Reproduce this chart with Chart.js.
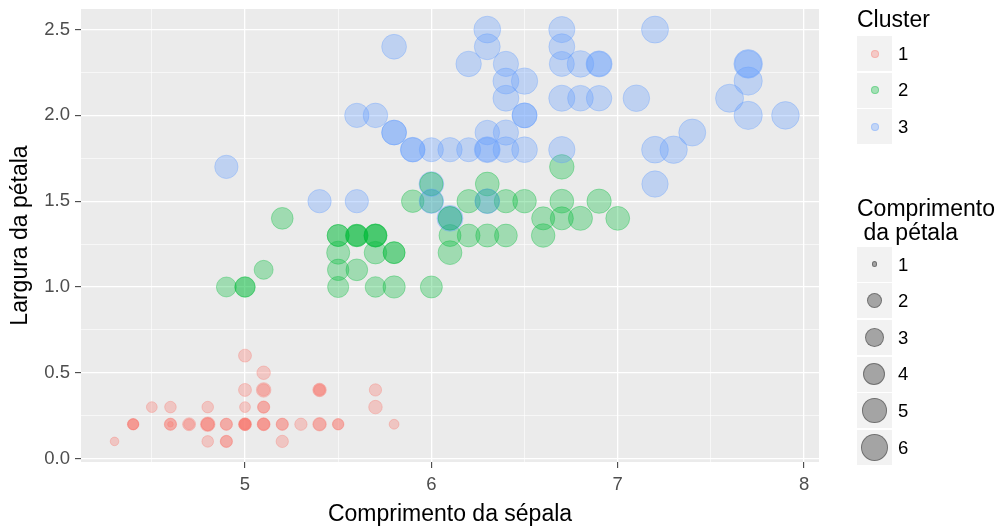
<!DOCTYPE html>
<html>
<head>
<meta charset="utf-8">
<script src="https://cdn.jsdelivr.net/npm/chart.js@4/dist/chart.umd.min.js"></script>
<style>
  body { margin:0; background:#fff; font-family:"Liberation Sans", Arial, sans-serif; }
  #wrap { position:relative; width:1001px; height:529px; }
  canvas { position:absolute; left:0; top:0; }
  .lg { position:absolute; color:#000; white-space:pre; }
  .key { position:absolute; width:35px; height:35px; background:#F2F2F2; }
  .dot { position:absolute; border-radius:50%; box-sizing:border-box; }
</style>
</head>
<body>
<div id="wrap">
  <canvas id="myChart" width="1001" height="529"></canvas>
</div>
<script>
// iris: sepal length (x), petal width (y), petal length (size), cluster (colour)
var sepalLength = [
  5.1,4.9,4.7,4.6,5.0,5.4,4.6,5.0,4.4,4.9, 5.4,4.8,4.8,4.3,5.8,5.7,5.4,5.1,5.7,5.1,
  5.4,5.1,4.6,5.1,4.8,5.0,5.0,5.2,5.2,4.7, 4.8,5.4,5.2,5.5,4.9,5.0,5.5,4.9,4.4,5.1,
  5.0,4.5,4.4,5.0,5.1,4.8,5.1,4.6,5.3,5.0,
  7.0,6.4,6.9,5.5,6.5,5.7,6.3,4.9,6.6,5.2, 5.0,5.9,6.0,6.1,5.6,6.7,5.6,5.8,6.2,5.6,
  5.9,6.1,6.3,6.1,6.4,6.6,6.8,6.7,6.0,5.7, 5.5,5.5,5.8,6.0,5.4,6.0,6.7,6.3,5.6,5.5,
  5.5,6.1,5.8,5.0,5.6,5.7,5.7,6.2,5.1,5.7,
  6.3,5.8,7.1,6.3,6.5,7.6,4.9,7.3,6.7,7.2, 6.5,6.4,6.8,5.7,5.8,6.4,6.5,7.7,7.7,6.0,
  6.9,5.6,7.7,6.3,6.7,7.2,6.2,6.1,6.4,7.2, 7.4,7.9,6.4,6.3,6.1,7.7,6.3,6.4,6.0,6.9,
  6.7,6.9,5.8,6.8,6.7,6.7,6.3,6.5,6.2,5.9
]
var petalLength = [
  1.4,1.4,1.3,1.5,1.4,1.7,1.4,1.5,1.4,1.5, 1.5,1.6,1.4,1.1,1.2,1.5,1.3,1.4,1.7,1.5,
  1.7,1.5,1.0,1.7,1.9,1.6,1.6,1.5,1.4,1.6, 1.6,1.5,1.5,1.4,1.5,1.2,1.3,1.4,1.3,1.5,
  1.3,1.3,1.3,1.6,1.9,1.4,1.6,1.4,1.5,1.4,
  4.7,4.5,4.9,4.0,4.6,4.5,4.7,3.3,4.6,3.9, 3.5,4.2,4.0,4.7,3.6,4.4,4.5,4.1,4.5,3.9,
  4.8,4.0,4.9,4.7,4.3,4.4,4.8,5.0,4.5,3.5, 3.8,3.7,3.9,5.1,4.5,4.5,4.7,4.4,4.1,4.0,
  4.4,4.6,4.0,3.3,4.2,4.2,4.2,4.3,3.0,4.1,
  6.0,5.1,5.9,5.6,5.8,6.6,4.5,6.3,5.8,6.1, 5.1,5.3,5.5,5.0,5.1,5.3,5.5,6.7,6.9,5.0,
  5.7,4.9,6.7,4.9,5.7,6.0,4.8,4.9,5.6,5.8, 6.1,6.4,5.6,5.1,5.6,6.1,5.6,5.5,4.8,5.4,
  5.6,5.1,5.1,5.9,5.7,5.2,5.0,5.2,5.4,5.1
]
var petalWidth = [
  0.2,0.2,0.2,0.2,0.2,0.4,0.3,0.2,0.2,0.1, 0.2,0.2,0.1,0.1,0.2,0.4,0.4,0.3,0.3,0.3,
  0.2,0.4,0.2,0.5,0.2,0.2,0.4,0.2,0.2,0.2, 0.2,0.4,0.1,0.2,0.2,0.2,0.2,0.1,0.2,0.2,
  0.3,0.3,0.2,0.6,0.4,0.3,0.2,0.2,0.2,0.2,
  1.4,1.5,1.5,1.3,1.5,1.3,1.6,1.0,1.3,1.4, 1.0,1.5,1.0,1.4,1.3,1.4,1.5,1.0,1.5,1.1,
  1.8,1.3,1.5,1.2,1.3,1.4,1.4,1.7,1.5,1.0, 1.1,1.0,1.2,1.6,1.5,1.6,1.5,1.3,1.3,1.3,
  1.2,1.4,1.2,1.0,1.3,1.2,1.3,1.3,1.1,1.3,
  2.5,1.9,2.1,1.8,2.2,2.1,1.7,1.8,1.8,2.5, 2.0,1.9,2.1,2.0,2.4,2.3,1.8,2.2,2.3,1.5,
  2.3,2.0,2.0,1.8,2.1,1.8,1.8,1.8,2.1,1.6, 1.9,2.0,2.2,1.5,1.4,2.3,2.4,1.8,1.8,2.1,
  2.4,2.3,1.9,2.3,2.5,2.3,1.9,2.0,2.3,1.8
]
var cluster = [
  1,1,1,1,1,1,1,1,1,1, 1,1,1,1,1,1,1,1,1,1, 1,1,1,1,1,1,1,1,1,1, 1,1,1,1,1,1,1,1,1,1,
  1,1,1,1,1,1,1,1,1,1,
  2,2,2,2,2,2,2,2,2,2, 2,2,2,2,2,2,3,2,2,2, 3,2,2,2,2,2,2,2,2,2, 2,2,2,3,3,2,2,2,2,2,
  2,2,2,2,2,2,2,2,2,2,
  3,3,3,3,3,3,3,3,3,3, 3,3,3,3,3,3,3,3,3,3, 3,3,3,3,3,3,3,3,3,3, 3,3,3,3,3,3,3,3,3,3,
  3,3,3,3,3,3,3,3,3,3
]

var clusterNames = ['1','2','3']
var clusterColors = ['248,118,109','0,186,56','97,156,255']
var sizeBreaks = [1,2,3,4,5,6]

var xMajor = [5,6,7,8]
var xMinor = [4.5,5.5,6.5,7.5]
var yMajor = [0,0.5,1,1.5,2,2.5]
var yMinor = [0.25,0.75,1.25,1.75,2.25]

var alpha = 0.32
var minL = Math.min.apply(null, petalLength)
var maxL = Math.max.apply(null, petalLength)

// ggplot style area scale: size 1..6, then to pixels
function radius(L){
  var s = 1 + 5*Math.sqrt((L-minL)/(maxL-minL))
  return 2.3*s + 0.5
}

function isMajor(list, v){
  return list.some(function(m){ return Math.abs(m-v) < 1e-9 })
}

var points = []
for(let i=0;i<sepalLength.length;i++){
  points.push({x: sepalLength[i], y: petalWidth[i]})
}

var panelBg = {
  id: 'panelBg',
  beforeDraw: function(chart){
    var a = chart.chartArea
    var ctx = chart.ctx
    ctx.save()
    ctx.fillStyle = '#EBEBEB'
    ctx.fillRect(a.left, a.top, a.right-a.left, a.bottom-a.top)
    ctx.restore()
  }
}

var tickFont = {family:'"Liberation Sans", Arial, sans-serif', size:18.5}
var titleFont = {family:'"Liberation Sans", Arial, sans-serif', size:23, lineHeight:1.2}

var ctx = document.getElementById('myChart').getContext('2d')
var myChart = new Chart(ctx, {
  type: 'scatter',
  data: {
    datasets: [{
      data: points,
      pointRadius: function(c){ return radius(petalLength[c.dataIndex]) },
      pointHoverRadius: function(c){ return radius(petalLength[c.dataIndex]) },
      backgroundColor: function(c){ return 'rgba(' + clusterColors[cluster[c.dataIndex]-1] + ',' + alpha + ')' },
      borderColor: function(c){ return 'rgba(' + clusterColors[cluster[c.dataIndex]-1] + ',' + alpha + ')' },
      borderWidth: 1
    }]
  },
  plugins: [panelBg],
  options: {
    responsive: false,
    devicePixelRatio: 1,
    animation: false,
    events: [],
    layout: { autoPadding: false, padding: {left:0, top:9, right:182, bottom:0} },
    plugins: { legend: {display:false}, tooltip: {enabled:false} },
    scales: {
      x: {
        type: 'linear',
        min: 4.12, max: 8.08,
        afterBuildTicks: function(s){
          s.ticks = xMinor.concat(xMajor).sort(function(a,b){return a-b}).map(function(v){ return {value:v} })
        },
        afterFit: function(s){ s.height = 67; s.paddingLeft = 0; s.paddingRight = 0 },
        border: {display:false},
        grid: {
          color: '#FFFFFF',
          lineWidth: function(c){ return isMajor(xMajor, c.tick.value) ? 1.3 : 0.6 },
          drawTicks: true,
          tickLength: 6,
          tickWidth: 1,
          tickColor: function(c){ return isMajor(xMajor, c.tick.value) ? '#333333' : 'rgba(0,0,0,0)' }
        },
        ticks: {
          autoSkip: false, maxRotation: 0, padding: 6,
          color: '#4D4D4D', font: tickFont,
          callback: function(v){ return isMajor(xMajor, v) ? String(v) : '' }
        },
        title: {
          display: true, text: 'Comprimento da sépala', color: '#000000',
          font: titleFont, padding: {top:0, bottom:1}
        }
      },
      y: {
        type: 'linear',
        min: -0.02, max: 2.62,
        afterBuildTicks: function(s){
          s.ticks = yMinor.concat(yMajor).sort(function(a,b){return a-b}).map(function(v){ return {value:v} })
        },
        afterFit: function(s){ s.width = 81; s.paddingTop = 0; s.paddingBottom = 0 },
        border: {display:false},
        grid: {
          color: '#FFFFFF',
          lineWidth: function(c){ return isMajor(yMajor, c.tick.value) ? 1.3 : 0.6 },
          drawTicks: true,
          tickLength: 6,
          tickWidth: 1,
          tickColor: function(c){ return isMajor(yMajor, c.tick.value) ? '#333333' : 'rgba(0,0,0,0)' }
        },
        ticks: {
          autoSkip: false, padding: 5,
          color: '#4D4D4D', font: tickFont,
          callback: function(v){ return isMajor(yMajor, v) ? v.toFixed(1) : '' }
        },
        title: {
          display: true, text: 'Largura da pétala', color: '#000000',
          font: titleFont, padding: {top:7, bottom:0}
        }
      }
    }
  }
})

// legends (html, ggplot style)
var wrap = document.getElementById('wrap')
function addText(txt, left, baseline, size){
  var d = document.createElement('div')
  d.className = 'lg'
  d.textContent = txt
  d.style.fontSize = size + 'px'
  d.style.lineHeight = size + 'px'
  d.style.left = left + 'px'
  d.style.top = (baseline - (0.905 - 0.0585)*size) + 'px'
  wrap.appendChild(d)
}
function addKey(top, r, rgb){
  var k = document.createElement('div')
  k.className = 'key'
  k.style.left = '857px'
  k.style.top = top + 'px'
  wrap.appendChild(k)
  var d = document.createElement('div')
  d.className = 'dot'
  d.style.width = (2*r) + 'px'
  d.style.height = (2*r) + 'px'
  d.style.left = (857 + 17.5 - r) + 'px'
  d.style.top = (top + 17.5 - r) + 'px'
  d.style.background = 'rgba(' + rgb + ',' + alpha + ')'
  d.style.border = '1px solid rgba(' + rgb + ',' + alpha + ')'
  wrap.appendChild(d)
}

addText('Cluster', 857, 27, 23)
clusterNames.forEach(function(name, i){
  var top = 36 + i*36.6
  addKey(top, 4, clusterColors[i])
  addText(name, 898, top + 17.5 + 7, 18.5)
})

addText('Comprimento', 857, 216, 23)
addText(' da pétala', 857, 240, 23)
sizeBreaks.forEach(function(b, i){
  var top = 246.7 + i*36.6
  addKey(top, radius(b), '0,0,0')
  addText(String(b), 898, top + 17.5 + 7, 18.5)
})
</script>
</body>
</html>
